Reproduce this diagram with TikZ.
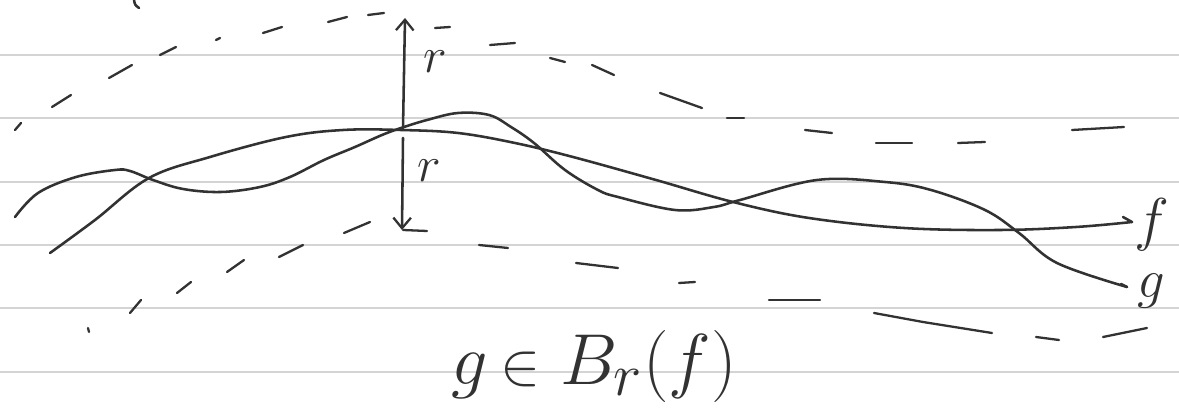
\documentclass[tikz,border=0pt]{standalone}
\usetikzlibrary{arrows.meta}
\definecolor{ink}{RGB}{50,50,50}
\definecolor{rulecol}{RGB}{212,212,212}
\begin{document}
\begin{tikzpicture}[x=0.02cm,y=-0.02cm,
  pen/.style={draw=ink,line width=1.45pt,line cap=round,line join=round},
  dashpen/.style={draw=ink,line width=1.3pt,line cap=round},
  ruleline/.style={draw=rulecol,line width=1.1pt},
  lbl/.style={text=ink,inner sep=0pt,font=\Huge},
  tip/.style={-{Straight Barb[length=6pt,width=10pt,line width=1.3pt]}}]
\fill[white] (0,0) rectangle (1179,411);
\useasboundingbox (0,0) rectangle (1179,411);
% ruled paper
\foreach \y in {55,118,182,245,308,372} \draw[ruleline] (0,\y) -- (1179,\y);
% stray mark at top
\draw[pen] (134,0) .. controls (135,5) .. (139,8);
% curve g
\draw[pen] plot[smooth,tension=0.6] coordinates {(15,217) (38,193) (76,177) (115,170) (130,171) (153,180) (183,189) (221,192) (260,187) (290,177) (324,160) (355,147) (382,135) (401,128) (427,120) (458,113) (489,115) (511,127) (534,143) (565,170) (598,190) (618,197) (675,210) (714,207) (740,200) (817,180) (885,182) (931,190) (985,210) (1019,233) (1057,263) (1127,287)};
\draw[pen] (1121,284) -- (1127,287);
% curve f
\draw[pen] plot[smooth,tension=0.6] coordinates {(50,253) (95,220) (149,178) (210,157) (286,137) (343,130) (401,130) (458,133) (515,143) (573,157) (656,180) (733,202) (809,218) (904,228) (1000,230) (1076,227) (1132,222)};
\draw[pen] (1123,217) -- (1132,222);
% radius arrows
\coordinate (c) at (403,128);
\coordinate (cb) at (403,138);
\coordinate (top) at (405,18);
\coordinate (bot) at (402,230);
\draw[pen,tip] (c) -- (top);
\draw[pen,tip] (cb) -- (bot);
\node[lbl,scale=1.15] (r1) at (435,62) {$r$};
\node[lbl,scale=1.15] (r2) at (429,171) {$r$};
% upper dashed boundary
\foreach \a/\b in {{15,130}/{21,123},{52,107}/{71,95},{109,78}/{132,65},{160,55}/{176,47},{216,40}/{220,38},{263,33}/{282,27},{328,22}/{347,17},{368,15}/{384,13},{435,28}/{450,27},{490,45}/{515,43},{550,58}/{565,62},{592,65}/{614,75},{660,93}/{702,108},{727,118}/{744,118},{805,130}/{832,133},{876,143}/{912,143},{958,143}/{985,142},{1072,130}/{1124,127}}
  \draw[dashpen] (\a) -- (\b);
% lower dashed boundary
\foreach \a/\b in {{88,328}/{89,332},{130,313}/{141,300},{177,293}/{191,282},{227,272}/{244,260},{279,257}/{303,245},{344,233}/{370,222},{403,230}/{427,231},{479,245}/{508,248},{576,263}/{618,268},{679,283}/{695,282},{769,300}/{820,300},{1036,337}/{1059,340},{1103,337}/{1147,328}}
  \draw[dashpen] (\a) -- (\b);
\draw[dashpen] (874,313) -- (923,322) -- (992,333);
% labels
\node[lbl,scale=1.35,anchor=west] (fl) at (1134,225) {$f$};
\node[lbl,scale=1.25,anchor=west] (gl) at (1137,291) {$g$};
\node[lbl,scale=1.65,anchor=base west] (formula) at (451,385) {$g\mkern3mu{\scriptstyle\in}\mkern5mu B_{r}(f)$};
\end{tikzpicture}
\end{document}
